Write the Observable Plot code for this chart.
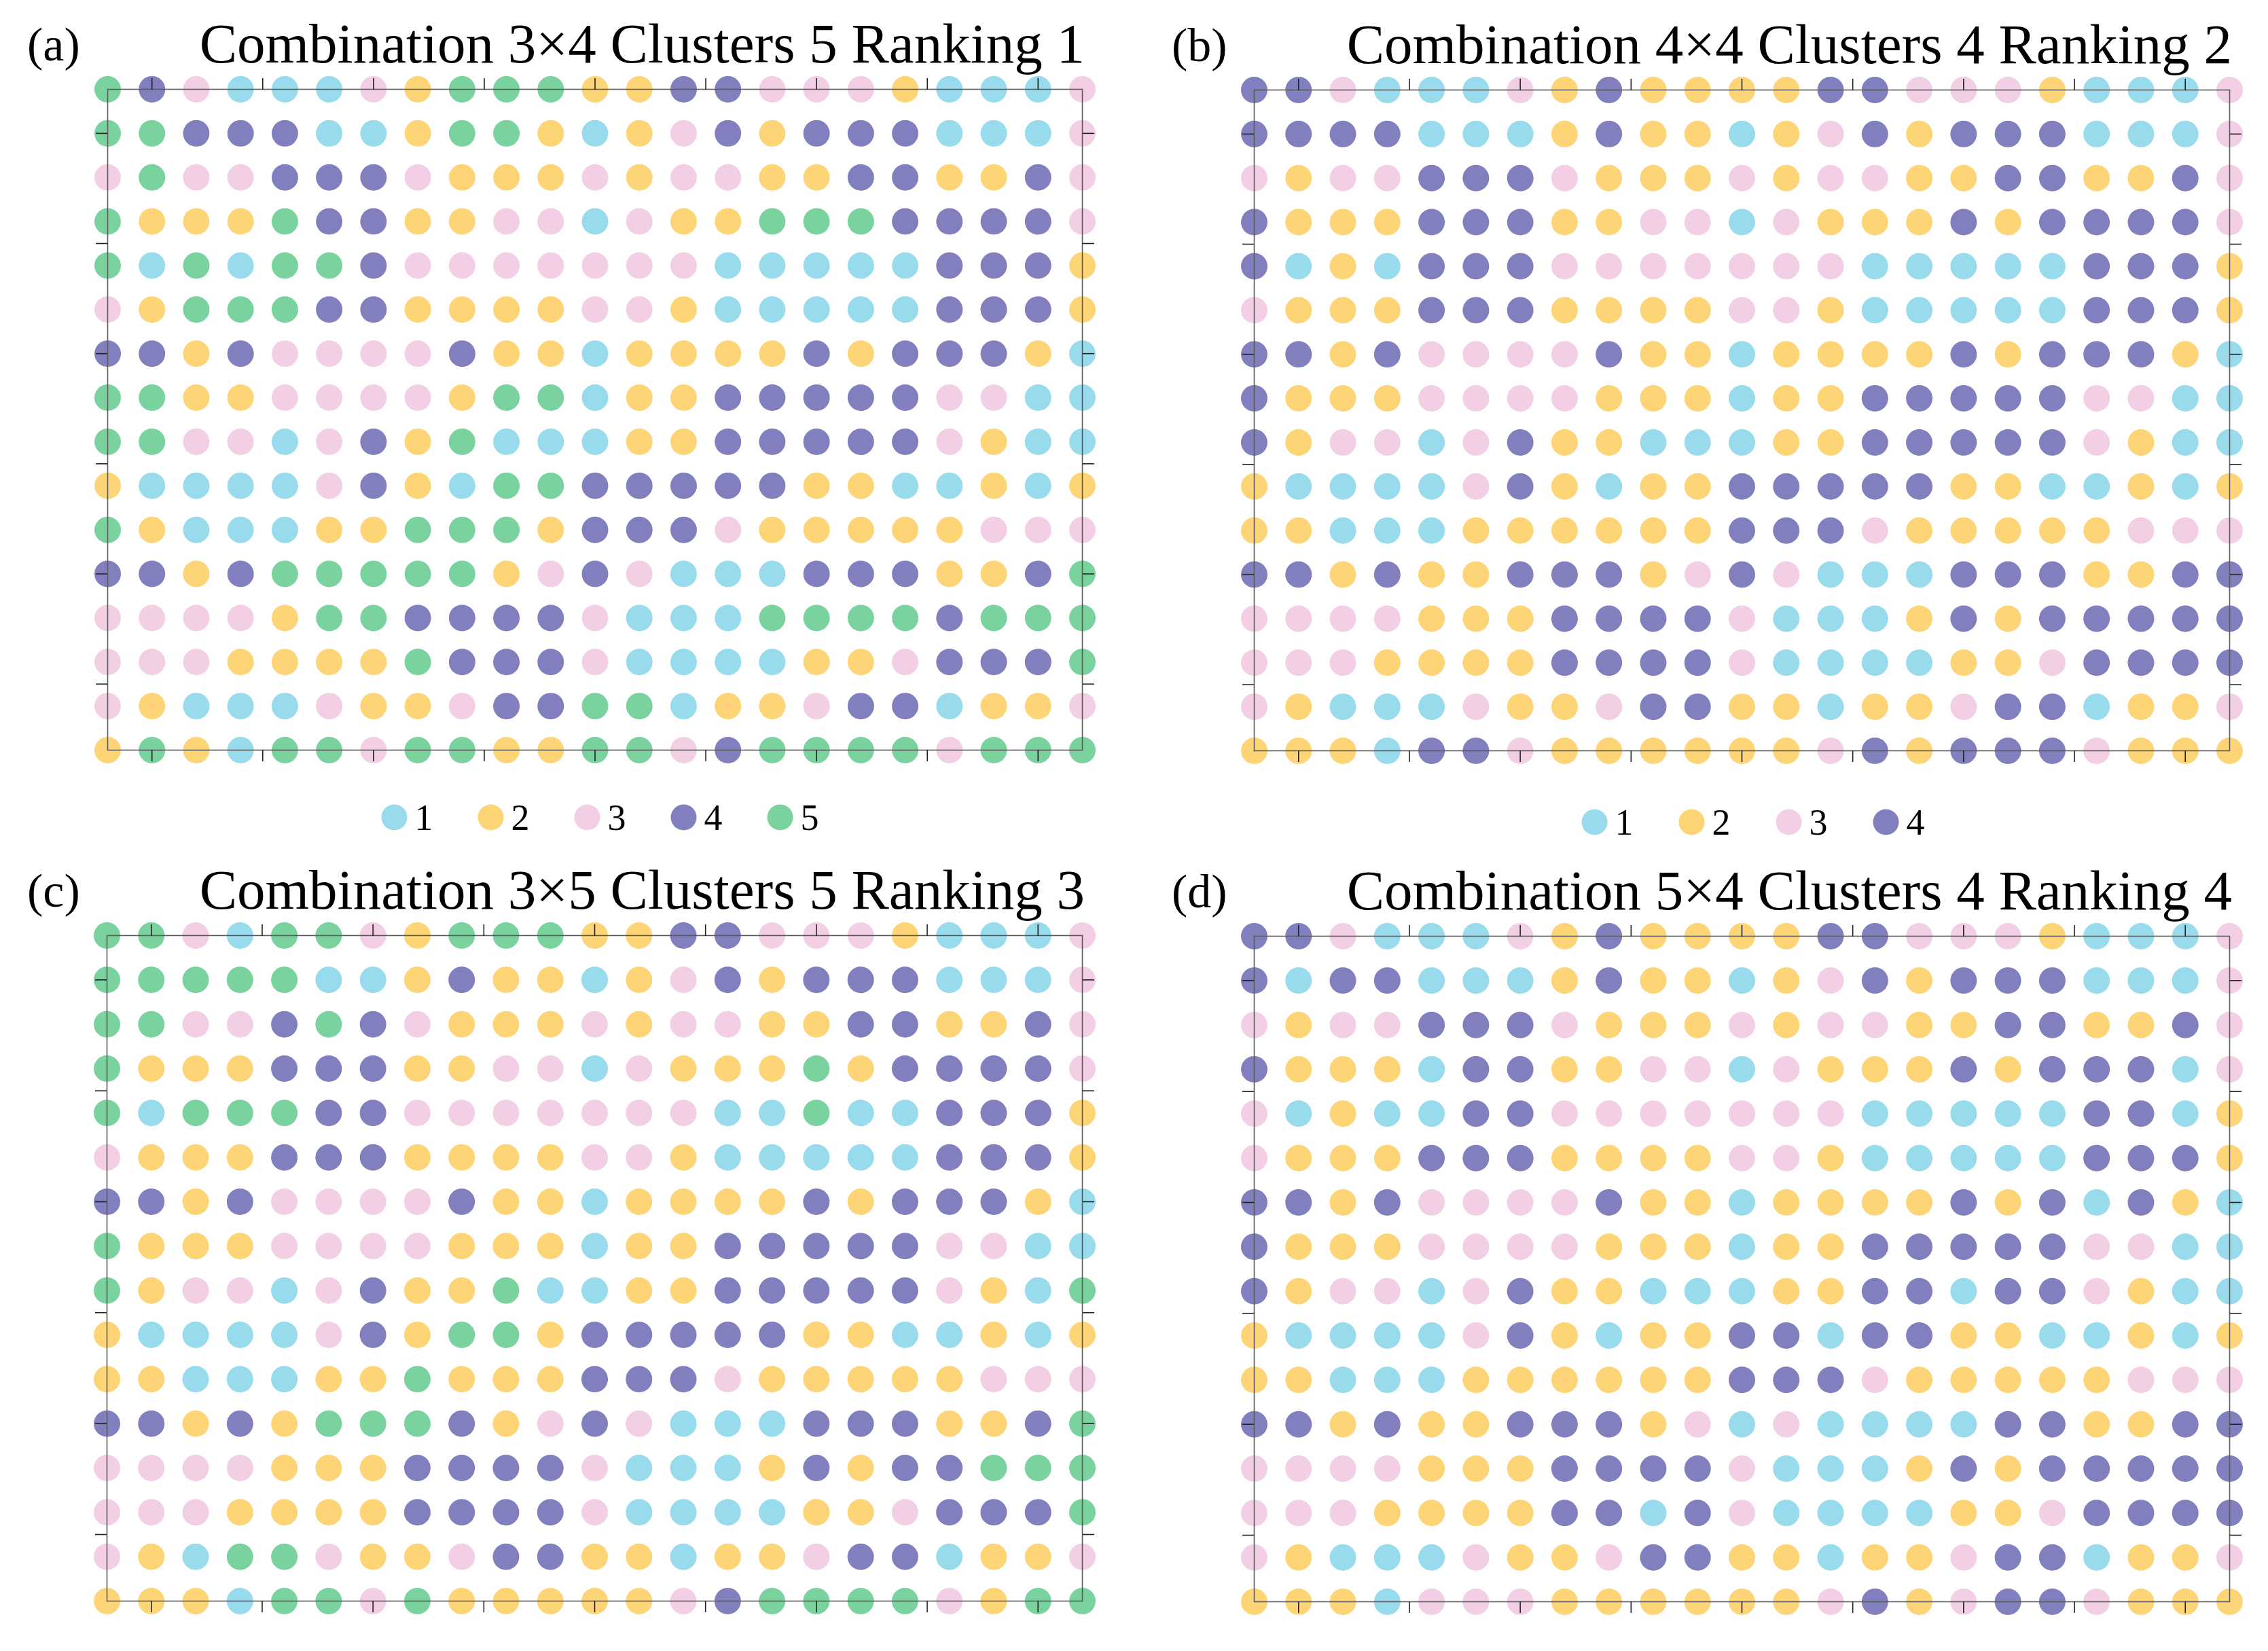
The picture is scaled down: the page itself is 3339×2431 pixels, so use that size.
<!DOCTYPE html>
<html>
<head>
<meta charset="utf-8">
<script src="https://cdn.jsdelivr.net/npm/d3@7"></script>
<script src="https://cdn.jsdelivr.net/npm/@observablehq/plot@0.6"></script>
<style>
  html, body { margin: 0; padding: 0; background: #fff; }
  #page { position: relative; width: 3339px; height: 2431px; background: #fff; overflow: hidden; }
  #page svg { position: absolute; }
</style>
</head>
<body>
<div id="page"></div>
<script>
// ---------- data ----------
const panelLabels = ["(a)", "(b)", "(c)", "(d)"];
const panelTitles = [
  "Combination 3×4 Clusters 5 Ranking 1",
  "Combination 4×4 Clusters 4 Ranking 2",
  "Combination 3×5 Clusters 5 Ranking 3",
  "Combination 5×4 Clusters 4 Ranking 4"
];
const clusters5 = [1, 2, 3, 4, 5];
const clusters4 = [1, 2, 3, 4];
const clusterColors = ["#98DBEC", "#FED576", "#F2CFE5", "#817FBD", "#7AD29F"];
const xTickValues = [1, 3.5, 6, 8.5, 11, 13.5, 16, 18.5, 21];
const yTickValues = [1, 3.5, 6, 8.5, 11, 13.5];

const gridA = [
  [5,4,3,1,1,1,3,2,5,5,5,2,2,4,4,3,3,3,2,1,1,1,3],
  [5,5,4,4,4,1,1,2,5,5,2,1,2,3,4,2,4,4,4,1,1,1,3],
  [3,5,3,3,4,4,4,3,2,2,2,3,2,3,3,2,2,4,4,2,2,4,3],
  [5,2,2,2,5,4,4,2,2,3,3,1,3,2,2,5,5,5,4,4,4,4,3],
  [5,1,5,1,5,5,4,3,3,3,3,3,3,3,1,1,1,1,1,4,4,4,2],
  [3,2,5,5,5,4,4,2,2,2,2,3,3,2,1,1,1,1,1,4,4,4,2],
  [4,4,2,4,3,3,3,3,4,2,2,1,2,2,2,2,4,2,4,4,4,2,1],
  [5,5,2,2,3,3,3,3,2,5,5,1,2,2,4,4,4,4,4,3,3,1,1],
  [5,5,3,3,1,3,4,2,5,1,1,1,2,2,4,4,4,4,4,3,2,1,1],
  [2,1,1,1,1,3,4,2,1,5,5,4,4,4,4,4,2,2,1,1,2,1,2],
  [5,2,1,1,1,2,2,5,5,5,2,4,4,4,3,2,2,2,2,2,3,3,3],
  [4,4,2,4,5,5,5,5,5,2,3,4,3,1,1,1,4,4,4,2,2,4,5],
  [3,3,3,3,2,5,5,4,4,4,4,3,1,1,1,5,5,5,5,4,5,5,5],
  [3,3,3,2,2,2,2,5,4,4,4,3,1,1,1,1,2,2,3,4,4,4,5],
  [3,2,1,1,1,3,2,2,3,4,4,5,5,1,2,2,3,4,4,1,2,2,3],
  [2,5,2,1,5,5,3,5,5,2,2,5,5,3,4,5,5,5,5,3,5,5,5]
];
const gridB = [
  [4,4,3,1,1,1,3,2,4,2,2,2,2,4,4,3,3,3,2,1,1,1,3],
  [4,4,4,4,1,1,1,2,4,2,2,1,2,3,4,2,4,4,4,1,1,1,3],
  [3,2,3,3,4,4,4,3,2,2,2,3,2,3,3,2,2,4,4,2,2,4,3],
  [4,2,2,2,4,4,4,2,2,3,3,1,3,2,2,2,4,2,4,4,4,4,3],
  [4,1,2,1,4,4,4,3,3,3,3,3,3,3,1,1,1,1,1,4,4,4,2],
  [3,2,2,2,4,4,4,2,2,2,2,3,3,2,1,1,1,1,1,4,4,4,2],
  [4,4,2,4,3,3,3,3,4,2,2,1,2,2,2,2,4,2,4,4,4,2,1],
  [4,2,2,2,3,3,3,3,2,2,2,1,2,2,4,4,4,4,4,3,3,1,1],
  [4,2,3,3,1,3,4,2,2,1,1,1,2,2,4,4,4,4,4,3,2,1,1],
  [2,1,1,1,1,3,4,2,1,2,2,4,4,4,4,4,2,2,1,1,2,1,2],
  [2,2,1,1,1,2,2,2,2,2,2,4,4,4,3,2,2,2,2,2,3,3,3],
  [4,4,2,4,2,2,4,4,4,2,3,4,3,1,1,1,4,4,4,2,2,4,4],
  [3,3,3,3,2,2,2,4,4,4,4,3,1,1,1,2,4,2,4,4,4,4,4],
  [3,3,3,2,2,2,2,4,4,4,4,3,1,1,1,1,2,2,3,4,4,4,4],
  [3,2,1,1,1,3,2,2,3,4,4,2,2,1,2,2,3,4,4,1,2,2,3],
  [2,2,2,1,4,4,3,2,2,2,2,2,2,3,4,2,4,4,4,3,2,2,2]
];
const gridC = [
  [5,5,3,1,5,5,3,2,5,5,5,2,2,4,4,3,3,3,2,1,1,1,3],
  [5,5,5,5,5,1,1,2,4,2,2,1,2,3,4,2,4,4,4,1,1,1,3],
  [5,5,3,3,4,5,4,3,2,2,2,3,2,3,3,2,2,4,4,2,2,4,3],
  [5,2,2,2,4,4,4,2,2,3,3,1,3,2,2,2,5,2,4,4,4,4,3],
  [5,1,5,5,5,4,4,3,3,3,3,3,3,3,1,1,5,1,1,4,4,4,2],
  [3,2,2,2,4,4,4,2,2,2,2,3,3,2,1,1,1,1,1,4,4,4,2],
  [4,4,2,4,3,3,3,3,4,2,2,1,2,2,2,2,4,2,4,4,4,2,1],
  [5,2,2,2,3,3,3,3,2,2,2,1,2,2,4,4,4,4,4,3,3,1,1],
  [5,2,3,3,1,3,4,2,2,5,1,1,2,2,4,4,4,4,4,3,2,1,5],
  [2,1,1,1,1,3,4,2,5,5,2,4,4,4,4,4,2,2,1,1,2,1,2],
  [2,2,1,1,1,2,2,5,2,2,2,4,4,4,3,2,2,2,2,2,3,3,3],
  [4,4,2,4,2,5,5,5,4,2,3,4,3,1,1,1,4,4,4,2,2,4,5],
  [3,3,3,3,2,2,2,4,4,4,4,3,1,1,1,2,4,2,4,4,5,5,5],
  [3,3,3,2,2,2,2,4,4,4,4,3,1,1,1,1,2,2,3,4,4,4,5],
  [3,2,1,5,5,3,2,2,3,4,4,2,2,1,2,2,3,4,4,1,2,2,3],
  [2,2,2,1,5,5,3,5,2,2,2,2,2,3,4,5,5,5,5,3,2,5,5]
];
const gridD = [
  [4,4,3,1,1,1,3,2,4,2,2,2,2,4,4,3,3,3,2,1,1,1,3],
  [4,1,4,4,1,1,1,2,4,2,2,1,2,3,4,2,4,4,4,1,1,1,3],
  [3,2,3,3,4,4,4,3,2,2,2,3,2,3,3,2,2,4,4,2,2,4,3],
  [4,2,2,2,1,4,4,2,2,3,3,1,3,2,2,2,4,2,4,4,4,1,3],
  [3,1,2,1,1,4,4,3,3,3,3,3,3,3,1,1,1,1,1,4,4,1,2],
  [3,2,2,2,4,4,4,2,2,2,2,3,3,2,1,1,1,1,1,4,4,4,2],
  [4,4,2,4,3,3,3,3,4,2,2,1,2,2,2,2,4,2,4,1,4,2,1],
  [4,2,2,2,3,3,3,3,2,2,2,1,2,2,4,4,4,4,4,3,3,1,1],
  [4,2,3,3,1,3,4,2,2,1,1,1,2,2,4,4,1,4,4,3,2,1,1],
  [2,1,1,1,1,3,4,2,1,2,2,4,4,1,4,4,2,2,1,1,2,1,2],
  [2,2,1,1,1,2,2,2,2,2,2,4,4,4,3,2,2,2,2,2,3,3,3],
  [4,4,2,4,2,2,4,4,4,2,3,1,3,1,1,1,1,4,4,2,2,4,4],
  [3,3,3,3,2,2,2,4,4,4,4,3,1,1,1,2,4,2,4,4,4,4,4],
  [3,3,3,2,2,2,2,4,4,1,4,3,1,1,1,1,2,2,3,4,4,4,4],
  [3,2,1,1,1,3,2,2,3,4,4,2,2,1,2,2,3,4,4,1,2,2,3],
  [2,2,2,1,3,3,3,2,2,2,2,2,2,3,4,2,3,4,4,3,2,2,2]
];

// ---------- layout ----------
const page = document.getElementById("page");
const SERIF = "'Liberation Serif', 'Times New Roman', Times, serif";
const panels = [
  {grid: gridA, L: 158,  T: 131,  W: 1435, H: 973},
  {grid: gridB, L: 1846, T: 132,  W: 1436, H: 973},
  {grid: gridC, L: 157,  T: 1377, W: 1436, H: 980},
  {grid: gridD, L: 1846, T: 1378, W: 1436, H: 980}
];
const labelX = [40, 1725, 40, 1725];

function toCells(grid) {
  return grid.flatMap((row, r) => row.map((c, k) => ({row: r, col: k, cluster: c})));
}

const M = 40;
const tickStyle = {tickSize: 17, tickFormat: () => "", label: null, stroke: "#222", strokeWidth: 1.6};

panels.forEach((p) => {
  const nCols = p.grid[0].length, nRows = p.grid.length;
  const svg = Plot.plot({
    width: p.W + 2 * M,
    height: p.H + 2 * M,
    margin: M,
    style: {background: "transparent", overflow: "visible"},
    x: {domain: [0, nCols - 1]},
    y: {domain: [0, nRows - 1], reverse: true},
    color: {type: "ordinal", domain: clusters5, range: clusterColors},
    marks: [
      Plot.dot(toCells(p.grid), {x: "col", y: "row", fill: "cluster", r: 19.5}),
      Plot.frame({stroke: "#5c5c5c", strokeWidth: 1.6}),
      Plot.axisX({anchor: "top", ticks: xTickValues, ...tickStyle}),
      Plot.axisX({anchor: "bottom", ticks: xTickValues, ...tickStyle}),
      Plot.axisY({anchor: "left", ticks: yTickValues, ...tickStyle}),
      Plot.axisY({anchor: "right", ticks: yTickValues, ...tickStyle})
    ]
  });
  svg.style.left = (p.L - M) + "px";
  svg.style.top = (p.T - M) + "px";
  svg.style.maxWidth = "none";
  page.appendChild(svg);
});

// ---------- legends ----------
function legend(keys, xRange, top) {
  const svg = Plot.plot({
    width: 3339, height: 80, margin: 0,
    style: {background: "transparent", overflow: "visible"},
    x: {type: "point", domain: keys, range: xRange, padding: 0, axis: null},
    color: {type: "ordinal", domain: clusters5, range: clusterColors},
    marks: [
      Plot.dot(keys, {x: (d) => d, fill: (d) => d, r: 19, frameAnchor: "middle"}),
      Plot.text(keys, {x: (d) => d, text: (d) => String(d), frameAnchor: "middle", textAnchor: "start",
        dx: 30, dy: 1, fontSize: 54, fontFamily: SERIF, fill: "#000"})
    ]
  });
  svg.style.left = "0px";
  svg.style.top = top + "px";
  svg.style.maxWidth = "none";
  page.appendChild(svg);
}
legend(clusters5, [579, 1149], 1163);
legend(clusters4, [2346, 2776], 1170);

// ---------- titles ----------
const overlay = d3.select(page).append("svg")
  .attr("width", 3339).attr("height", 2431)
  .style("left", "0px").style("top", "0px").style("pointer-events", "none");
panels.forEach((p, i) => {
  overlay.append("text")
    .attr("x", labelX[i]).attr("y", p.T - 42)
    .attr("font-family", SERIF).attr("font-size", 70)
    .text(panelLabels[i]);
  overlay.append("text")
    .attr("x", p.L + p.W + 4).attr("y", p.T - 39)
    .attr("text-anchor", "end")
    .attr("font-family", SERIF).attr("font-size", 83)
    .text(panelTitles[i]);
});
</script>
</body>
</html>
